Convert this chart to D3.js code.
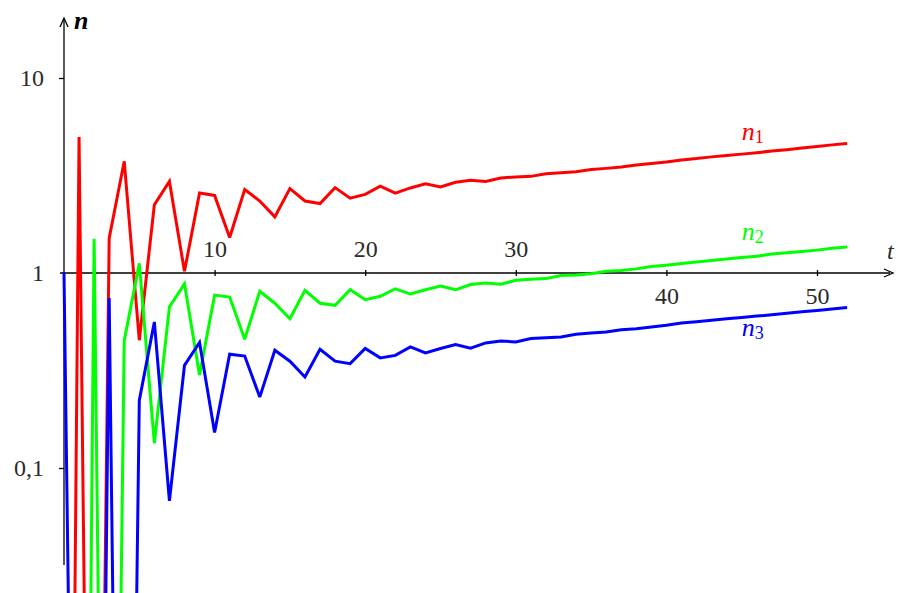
<!DOCTYPE html>
<html><head><meta charset="utf-8">
<script src="https://cdn.jsdelivr.net/npm/d3@7"></script>
<style>body{margin:0;background:#fff}svg{display:block}</style>
</head><body>
<svg id="chart" width="898" height="593"></svg>
<script>
const t = d3.range(0, 53);
const n1 = [1.3e-8, 4.98, 7e-7, 1.51, 3.74, 0.452, 2.24, 2.95, 1.02, 2.57,
  2.50, 1.52, 2.68, 2.34, 1.94, 2.71, 2.34, 2.27, 2.74, 2.42,
  2.53, 2.79, 2.57, 2.73, 2.87, 2.76, 2.92, 2.99, 2.95, 3.07,
  3.11, 3.13, 3.23, 3.27, 3.31, 3.39, 3.44, 3.50, 3.58, 3.64,
  3.71, 3.80, 3.86, 3.94, 4.01, 4.07, 4.14, 4.22, 4.29, 4.37,
  4.45, 4.54, 4.61];
const n2 = [1e-9, 4e-9, 1.5, 3.2e-7, 0.45, 1.12, 0.134, 0.67, 0.88, 0.30,
  0.77, 0.753, 0.457, 0.806, 0.70, 0.583, 0.815, 0.70, 0.683, 0.82,
  0.73, 0.76, 0.83, 0.78, 0.82, 0.858, 0.82, 0.872, 0.888, 0.875,
  0.917, 0.93, 0.936, 0.97, 0.977, 0.99, 1.02, 1.03, 1.05, 1.08,
  1.095, 1.12, 1.14, 1.16, 1.18, 1.20, 1.22, 1.25, 1.27, 1.29,
  1.31, 1.34, 1.36];
const n3 = [1.0, 1.8e-6, 1e-7, 0.744, 3.2e-7, 0.222, 0.561, 0.0678, 0.336, 0.44,
  0.152, 0.383, 0.375, 0.231, 0.402, 0.353, 0.293, 0.406, 0.353, 0.343,
  0.41, 0.367, 0.378, 0.418, 0.389, 0.41, 0.43, 0.412, 0.438, 0.448,
  0.443, 0.461, 0.466, 0.47, 0.485, 0.492, 0.498, 0.512, 0.518, 0.528,
  0.539, 0.554, 0.563, 0.572, 0.582, 0.592, 0.601, 0.611, 0.622, 0.632,
  0.643, 0.654, 0.665];
const xTicks = [10, 20, 30, 40, 50];
const yTicks = [0.1, 1, 10];
const yTickLabels = ["0,1", "1", "10"];
const seriesNames = ["n1", "n2", "n3"];
const seriesColors = ["#ff0000", "#00ff00", "#0000ff"];

const svg = d3.select("#chart");
const x = d3.scaleLinear().domain([0, 50]).range([64, 817]);
const y = d3.scaleLog().domain([0.1, 10]).range([468, 78]);
const font = '"Liberation Serif"';

// x axis
const xAxisY = y(1);
svg.append("line").attr("x1", 60).attr("x2", 890).attr("y1", xAxisY).attr("y2", xAxisY)
  .attr("stroke", "#000").attr("stroke-width", 1.3);
svg.append("path").attr("d", `M884,${xAxisY-4} L893,${xAxisY} L884,${xAxisY+4}`)
  .attr("fill", "none").attr("stroke", "#000").attr("stroke-width", 1.3);
const gx = svg.append("g").attr("transform", `translate(0,${xAxisY})`)
  .call(d3.axisBottom(x).tickValues(xTicks).tickSize(3).tickFormat(d3.format("d")));
gx.attr("font-family", null).attr("font-size", null);
gx.select(".domain").remove();
gx.selectAll(".tick line").attr("y1", -3).attr("y2", 3).attr("stroke-width", 1.3);
gx.selectAll(".tick text")
  .style("font-family", font).style("font-size", "24px").attr("fill", "#2b2b2b")
  .attr("dy", null)
  .attr("y", d => d <= 30 ? -16 : 31);

// y axis
const yAxisX = x(0);
svg.append("line").attr("x1", yAxisX).attr("x2", yAxisX).attr("y1", 565).attr("y2", 20)
  .attr("stroke", "#000").attr("stroke-width", 1.3);
svg.append("path").attr("d", `M${yAxisX-4},27 L${yAxisX},18 L${yAxisX+4},27`)
  .attr("fill", "none").attr("stroke", "#000").attr("stroke-width", 1.3);
const gy = svg.append("g").attr("transform", `translate(${yAxisX},0)`)
  .call(d3.axisLeft(y).tickValues(yTicks).tickSize(5).tickFormat((d, i) => yTickLabels[i]));
gy.attr("font-family", null).attr("font-size", null);
gy.select(".domain").remove();
gy.selectAll(".tick line").attr("stroke-width", 1.3).attr("opacity", d => d === 1 ? 0 : 1);
gy.selectAll(".tick text")
  .style("font-family", font).style("font-size", "24px").attr("fill", "#2b2b2b")
  .attr("x", -20).attr("dy", "0.33em");

svg.append("text").attr("x", yAxisX + 10).attr("y", 29)
  .style("font-family", font).style("font-size", "26px").attr("font-style", "italic")
  .attr("font-weight", "bold").text("n");
svg.append("text").attr("x", 887).attr("y", 259)
  .style("font-family", font).style("font-size", "24px").attr("font-style", "italic")
  .attr("fill", "#2b2b2b").text("t");

// lines
const allSeries = [n1, n2, n3];
const line = d3.line().x((d, i) => x(t[i])).y(d => y(d));
allSeries.forEach((s, k) => {
  svg.append("path").datum(s).attr("d", line)
    .attr("fill", "none").attr("stroke", seriesColors[k]).attr("stroke-width", 3)
    .attr("stroke-linejoin", "miter").attr("stroke-miterlimit", 3);
});

// series labels
const labelPos = [{t: 45.0, v: 4.79}, {t: 45.0, v: 1.47}, {t: 45.0, v: 0.473}];
labelPos.forEach((p, k) => {
  const txt = svg.append("text").attr("x", x(p.t)).attr("y", y(p.v))
    .style("font-family", font).style("font-size", "26px").attr("font-style", "italic")
    .attr("fill", seriesColors[k]);
  txt.append("tspan").text("n");
  txt.append("tspan").attr("font-style", "normal").style("font-size", "18px").attr("dy", 3)
    .text(seriesNames[k].slice(1));
});
</script>
</body></html>
